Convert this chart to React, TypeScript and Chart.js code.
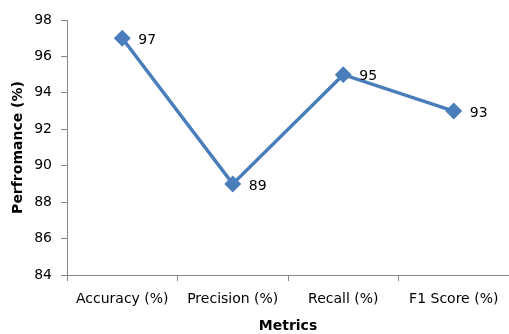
import React, { useEffect, useRef } from "react";
import { Chart, registerables } from "chart.js";

Chart.register(...registerables);

const categories = ["Accuracy (%)", "Precision (%)", "Recall (%)", "F1 Score (%)"];
const performance = [97, 89, 95, 93];
const yMin = 84;
const yMax = 98;
const yStep = 2;

const FONT = "'DejaVu Sans', 'Open Sans', sans-serif";
const FONT_SIZE = 14;
const LINE_COLOR = "#4A7EBB";
const AXIS_COLOR = "#868686";

// Writes each point's value just to the right of its marker.
const valueLabels = {
  id: "valueLabels",
  afterDatasetsDraw(chart: any) {
    const { ctx } = chart;
    const meta = chart.getDatasetMeta(0);
    ctx.save();
    ctx.font = `${FONT_SIZE}px ${FONT}`;
    ctx.fillStyle = "#000";
    ctx.textAlign = "left";
    ctx.textBaseline = "middle";
    meta.data.forEach((pt: any, i: number) => {
      ctx.fillText(String(chart.data.datasets[0].data[i]), pt.x + 16, pt.y + 2);
    });
    ctx.restore();
  },
};

export default function App() {
  const ref = useRef<HTMLCanvasElement>(null);

  useEffect(() => {
    document.body.style.margin = "0";
    const chart = new Chart(ref.current!, {
      type: "line",
      data: {
        labels: categories,
        datasets: [
          {
            data: performance,
            borderColor: LINE_COLOR,
            backgroundColor: LINE_COLOR,
            borderWidth: 3.5,
            pointStyle: "rectRot",
            pointRadius: 6,
            pointHoverRadius: 6,
            tension: 0,
            clip: false,
          },
        ],
      },
      options: {
        animation: false,
        responsive: false,
        layout: { autoPadding: false, padding: { top: 20, right: 0, left: 0, bottom: 0 } },
        plugins: { legend: { display: false }, tooltip: { enabled: false } },
        scales: {
          x: {
            offset: true,
            grid: {
              display: true,
              drawOnChartArea: false,
              tickLength: 6,
              color: AXIS_COLOR,
              offset: true,
            },
            border: { color: AXIS_COLOR, width: 1 },
            ticks: { color: "#000", font: { family: FONT, size: FONT_SIZE }, padding: 10, maxRotation: 0 },
            title: {
              display: true,
              text: "Metrics",
              color: "#000",
              font: { family: FONT, size: FONT_SIZE, weight: "bold" },
              padding: { top: 4, bottom: -1 },
            },
            afterFit(scale: any) {
              scale.height = 59;
              scale.paddingLeft = 0;
              scale.paddingRight = 0;
            },
          },
          y: {
            min: yMin,
            max: yMax,
            grid: {
              display: true,
              drawOnChartArea: false,
              tickLength: 6,
              color: AXIS_COLOR,
            },
            border: { color: AXIS_COLOR, width: 1 },
            ticks: { stepSize: yStep, color: "#000", font: { family: FONT, size: FONT_SIZE }, padding: 9 },
            title: {
              display: true,
              text: "Perfromance (%)",
              color: "#000",
              font: { family: FONT, size: FONT_SIZE, weight: "bold" },
              padding: { top: 10, bottom: 6 },
            },
            afterFit(scale: any) {
              scale.width = 67;
              scale.paddingTop = 0;
              scale.paddingBottom = 0;
            },
          },
        },
      },
      plugins: [valueLabels],
    });
    return () => chart.destroy();
  }, []);

  return (
    <div style={{ position: "fixed", left: 0, top: 0, width: 509, height: 334, background: "#fff" }}>
      <canvas ref={ref} width={509} height={334} />
    </div>
  );
}
